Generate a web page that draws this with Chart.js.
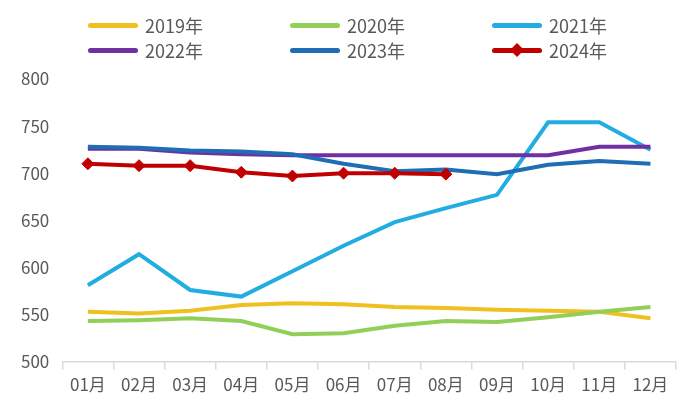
<!DOCTYPE html>
<html lang="zh">
<head>
  <meta charset="UTF-8">
  <title>月度走势</title>
  <script src="https://cdn.jsdelivr.net/npm/chart.js"></script>
  <style>
    body { margin: 0; background: #fff; }
    .wrap { position: relative; width: 700px; height: 418px; }
    .legend { position: absolute; left: 0; top: 0; width: 700px; height: 70px;
      font-family: "Noto Sans CJK SC", sans-serif; font-size: 18px; color: #595959; }
    .item { position: absolute; display: flex; align-items: center; height: 24px; }
    .swatch { position: relative; width: 50px; height: 5px; border-radius: 3px; margin-right: 7px; }
    .diamond { position: absolute; left: 20px; top: -3px; width: 10px; height: 10px; transform: rotate(45deg); }
  </style>
</head>
<body>
<div class="wrap">
  <canvas id="chart"></canvas>
  <div class="legend" id="legend"></div>
</div>
<script>
  // categories
  var months = ['01月', '02月', '03月', '04月', '05月', '06月', '07月', '08月', '09月', '10月', '11月', '12月'];
  var years = ['2019年', '2020年', '2021年', '2022年', '2023年', '2024年'];
  var yTicks = [500, 550, 600, 650, 700, 750, 800];

  // series values
  var v2019 = [553, 551, 554, 560, 562, 561, 558, 557, 555, 554, 553, 546];
  var v2020 = [543, 544, 546, 543, 529, 530, 538, 543, 542, 547, 553, 558];
  var v2021 = [581, 614, 576, 569, 596, 623, 648, 663, 677, 754, 754, 725];
  var v2022 = [726, 726, 722, 720, 719, 719, 719, 719, 719, 719, 728, 728];
  var v2023 = [728, 727, 724, 723, 720, 710, 702, 704, 699, 709, 713, 710];
  var v2024 = [710, 708, 708, 701, 697, 700, 700, 699];

  var colors = ['#f0c020', '#92cf58', '#22ade1', '#7030a0', '#1f6db5', '#c00000'];
  var series = [v2019, v2020, v2021, v2022, v2023, v2024];

  var datasets = series.map(function (vals, i) {
    var isLast = i === series.length - 1;
    return {
      label: years[i],
      data: vals,
      borderColor: colors[i],
      backgroundColor: colors[i],
      borderWidth: 4,
      pointStyle: 'rectRot',
      pointRadius: isLast ? 6 : 0,
      pointHoverRadius: isLast ? 6 : 0,
      pointBorderWidth: 1,
      tension: 0,
      order: series.length - i
    };
  });

  // legend, 3 columns x 2 rows
  var legend = document.getElementById('legend');
  var colX = [88, 290, 492];
  var rowY = [13, 38];
  years.forEach(function (y, i) {
    var item = document.createElement('div');
    item.className = 'item';
    item.style.left = colX[i % 3] + 'px';
    item.style.top = rowY[Math.floor(i / 3)] + 'px';
    var sw = document.createElement('div');
    sw.className = 'swatch';
    sw.style.background = colors[i];
    if (i === years.length - 1) {
      var d = document.createElement('div');
      d.className = 'diamond';
      d.style.background = colors[i];
      sw.appendChild(d);
    }
    item.appendChild(sw);
    item.appendChild(document.createTextNode(y));
    legend.appendChild(item);
  });

  var ctx = document.getElementById('chart').getContext('2d');
  var myChart = new Chart(ctx, {
    type: 'line',
    data: { labels: months, datasets: datasets },
    options: {
      responsive: true,
      maintainAspectRatio: false,
      animation: false,
      devicePixelRatio: 1,
      layout: { padding: { top: 79, left: 8, right: 24, bottom: 18 } },
      plugins: { legend: { display: false }, tooltip: { enabled: false } },
      scales: {
        x: {
          offset: true,
          grid: { offset: true, drawOnChartArea: false, color: '#d9d9d9', lineWidth: 1.5, tickLength: 8 },
          border: { color: '#d9d9d9', width: 1.5 },
          ticks: { color: '#595959', font: { family: 'Noto Sans CJK SC', size: 17 }, padding: 5, maxRotation: 0, autoSkip: false }
        },
        y: {
          min: yTicks[0],
          max: yTicks[yTicks.length - 1],
          afterBuildTicks: function (axis) { axis.ticks = yTicks.map(function (v) { return { value: v }; }); },
          grid: { display: false, drawTicks: false },
          border: { display: false },
          ticks: { color: '#595959', font: { family: 'Noto Sans CJK SC', size: 17 }, padding: 13 }
        }
      }
    }
  });
</script>
</body>
</html>
